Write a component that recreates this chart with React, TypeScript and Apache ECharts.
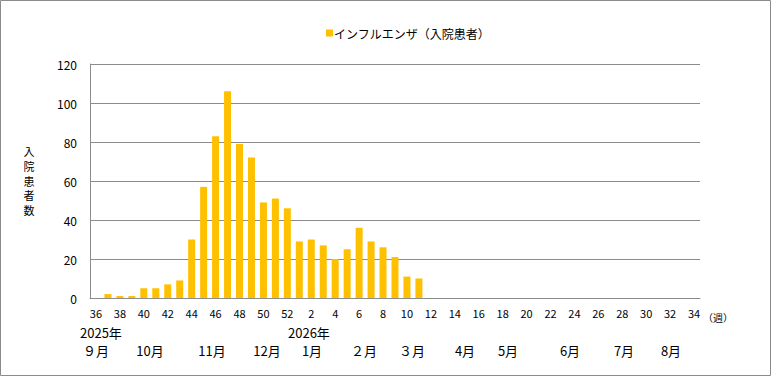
import React, { useEffect, useRef } from "react";
import * as echarts from "echarts";

// Week numbers: 2025 week 36..52, 2026 week 1..34
const weeks: string[] = [
  "36", "37", "38", "39", "40", "41", "42", "43", "44", "45", "46", "47", "48", "49", "50", "51", "52",
  "1", "2", "3", "4", "5", "6", "7", "8", "9", "10", "11", "12", "13", "14", "15", "16", "17", "18",
  "19", "20", "21", "22", "23", "24", "25", "26", "27", "28", "29", "30", "31", "32", "33", "34",
];

// Hospitalized influenza patients per week
const inpatients: (number | null)[] = [
  null, 2, 1, 1, 5, 5, 7, 9, 30, 57, 83, 106, 79, 72, 49, 51, 46,
  29, 30, 27, 20, 25, 36, 29, 26, 21, 11, 10,
];

const yearLabels: string[] = ["2025年", "2026年"];
const monthLabels: string[] = ["９月", "10月", "11月", "12月", "1月", "２月", "３月", "4月", "5月", "6月", "7月", "8月"];

const seriesName = "インフルエンザ（入院患者）";
const yAxisTitleChars: string[] = ["入", "院", "患", "者", "数"];
const weekUnit = "（週）";

// layout (pixel positions of the annotation texts)
const yearX = [80, 288];
const monthX = [96, 150, 212, 267, 312, 364, 412, 465, 508, 570, 624, 671];

const FONT = "'Noto Sans CJK JP', 'Noto Sans', sans-serif";

export default function App() {
  const ref = useRef<HTMLDivElement>(null);
  useEffect(() => {
    if (!ref.current) return;
    const chart = echarts.init(ref.current, undefined, { renderer: "svg" });
    const graphics: any[] = [
      {
        type: "rect",
        shape: { x: 0.5, y: 0.5, width: 770, height: 375 },
        style: { fill: "none", stroke: "#8c8c8c", lineWidth: 1 },
        silent: true,
      },
      {
        type: "text",
        x: 703,
        y: 317,
        style: { text: weekUnit, fill: "#000", font: `10px ${FONT}`, align: "left", verticalAlign: "middle" },
      },
    ];
    yAxisTitleChars.forEach((c, i) => {
      graphics.push({
        type: "text",
        x: 29,
        y: 151 + i * 14.8,
        style: { text: c, fill: "#000", font: `11px ${FONT}`, align: "center", verticalAlign: "middle" },
      });
    });
    yearLabels.forEach((t, i) => {
      graphics.push({
        type: "text",
        x: yearX[i],
        y: 332,
        style: { text: t, fill: "#000", font: `13px ${FONT}`, align: "left", verticalAlign: "middle" },
      });
    });
    monthLabels.forEach((t, i) => {
      graphics.push({
        type: "text",
        x: monthX[i],
        y: 350,
        style: { text: t, fill: "#000", font: `13px ${FONT}`, align: "center", verticalAlign: "middle" },
      });
    });

    chart.setOption({
      animation: false,
      textStyle: { fontFamily: FONT },
      legend: {
        data: [seriesName],
        top: 22,
        left: 321,
        itemWidth: 7,
        itemHeight: 7,
        itemGap: 4,
        icon: "rect",
        textStyle: { fontSize: 12, color: "#000", padding: [0, 0, 0, -4] },
      },
      grid: { left: 90, right: 71, top: 64, bottom: 78, containLabel: false },
      xAxis: {
        type: "category",
        data: weeks,
        boundaryGap: true,
        axisLine: { show: true, lineStyle: { color: "#8c8c8c", width: 1 } },
        axisTick: { show: false },
        axisLabel: { interval: 1, fontSize: 11, color: "#000", margin: 9 },
      },
      yAxis: {
        type: "value",
        min: 0,
        max: 120,
        interval: 20,
        axisLine: { show: true, lineStyle: { color: "#8c8c8c", width: 1 } },
        axisTick: { show: false },
        axisLabel: { fontSize: 12, color: "#000", margin: 13 },
        splitLine: { show: true, lineStyle: { color: "#8c8c8c", width: 1 } },
      },
      series: [
        {
          name: seriesName,
          type: "bar",
          data: inpatients,
          barWidth: 7,
          itemStyle: { color: "#FFC000" },
        },
      ],
      graphic: graphics,
    });
    return () => chart.dispose();
  }, []);
  return (
    <div
      ref={ref}
      style={{ position: "absolute", left: 0, top: 0, width: 771, height: 376, background: "#fff" }}
    />
  );
}
